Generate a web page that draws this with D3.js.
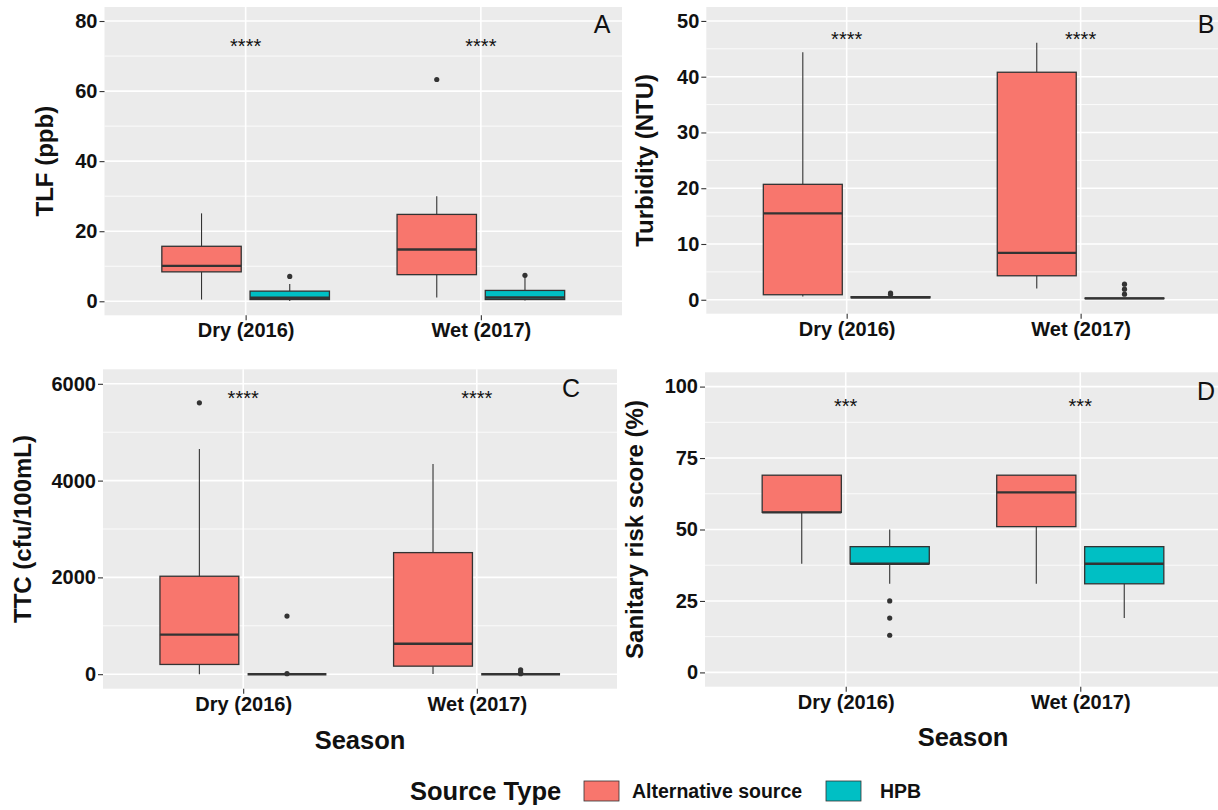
<!DOCTYPE html>
<html>
<head>
<meta charset="utf-8">
<script src="https://cdn.jsdelivr.net/npm/d3@7"></script>
<style>
  body { margin: 0; background: #fff; }
  text { font-family: "Liberation Sans", Arial, Helvetica, sans-serif; }
</style>
</head>
<body>
<div id="chart"></div>
<script>
// categories
const seasons = ["Dry (2016)", "Wet (2017)"];
const sourceTypes = ["Alternative source", "HPB"];
const sourceColors = ["#F8766D", "#00BFC4"];

// box summaries: lower whisker, q1, median, q3, upper whisker, outliers
const tlfBoxes = [
    { season: "Dry (2016)", source: "Alternative source", lo: 0.5, q1: 8.4, med: 10.1, q3: 15.7, hi: 25.1, out: [] },
    { season: "Dry (2016)", source: "HPB", lo: 0.1, q1: 0.5, med: 1.0, q3: 2.9, hi: 4.9, out: [7.1] },
    { season: "Wet (2017)", source: "Alternative source", lo: 1.1, q1: 7.6, med: 14.8, q3: 24.8, hi: 30.0, out: [63.3] },
    { season: "Wet (2017)", source: "HPB", lo: 0.2, q1: 0.5, med: 1.1, q3: 3.1, hi: 6.9, out: [7.4] }
];
const turbidityBoxes = [
    { season: "Dry (2016)", source: "Alternative source", lo: 0.6, q1: 0.9, med: 15.5, q3: 20.7, hi: 44.4, out: [] },
    { season: "Dry (2016)", source: "HPB", lo: 0.3, q1: 0.35, med: 0.45, q3: 0.55, hi: 0.7, out: [1.0, 1.2] },
    { season: "Wet (2017)", source: "Alternative source", lo: 2.0, q1: 4.3, med: 8.4, q3: 40.8, hi: 46.1, out: [] },
    { season: "Wet (2017)", source: "HPB", lo: 0.2, q1: 0.2, med: 0.25, q3: 0.3, hi: 0.35, out: [1.0, 1.9, 2.8] }
];
const ttcBoxes = [
    { season: "Dry (2016)", source: "Alternative source", lo: 0, q1: 201, med: 818, q3: 2024, hi: 4654, out: [5607] },
    { season: "Dry (2016)", source: "HPB", lo: 0, q1: 0, med: 0, q3: 0, hi: 0, out: [10, 1201] },
    { season: "Wet (2017)", source: "Alternative source", lo: 5, q1: 166, med: 628, q3: 2512, hi: 4343, out: [] },
    { season: "Wet (2017)", source: "HPB", lo: 0, q1: 0, med: 0, q3: 0, hi: 0, out: [10, 40, 90] }
];
const sanitaryBoxes = [
    { season: "Dry (2016)", source: "Alternative source", lo: 38, q1: 56, med: 56, q3: 69, hi: 69, out: [] },
    { season: "Dry (2016)", source: "HPB", lo: 31, q1: 38, med: 38, q3: 44, hi: 50, out: [25, 19, 13] },
    { season: "Wet (2017)", source: "Alternative source", lo: 31, q1: 51, med: 63, q3: 69, hi: 69, out: [] },
    { season: "Wet (2017)", source: "HPB", lo: 19, q1: 31, med: 38, q3: 44, hi: 44, out: [] }
];

// tick labels
const tlfTicks = [0, 20, 40, 60, 80];
const turbidityTicks = [0, 10, 20, 30, 40, 50];
const ttcTicks = [0, 2000, 4000, 6000];
const sanitaryTicks = [0, 25, 50, 75, 100];

// significance labels and their heights
const starLabels = ["****", "****", "****", "***"];
const starValues = [73.7, 47.3, 5779, 94.5];

const panels = [
    { letter: "A", title: "TLF (ppb)", boxes: tlfBoxes, ticks: tlfTicks, domain: [-4, 84] },
    { letter: "B", title: "Turbidity (NTU)", boxes: turbidityBoxes, ticks: turbidityTicks, domain: [-2.5, 52.5] },
    { letter: "C", title: "TTC (cfu/100mL)", boxes: ttcBoxes, ticks: ttcTicks, domain: [-300, 6300] },
    { letter: "D", title: "Sanitary risk score (%)", boxes: sanitaryBoxes, ticks: sanitaryTicks, domain: [-5, 105] }
];

// where each panel sits on the page
const layout = [
    { x0: 104.5, x1: 622, y0: 7, y1: 315.3, titleX: 45, letterX: 602, letterY: 33, season: false },
    { x0: 706.3, x1: 1221, y0: 7, y1: 313.7, titleX: 645, letterX: 1206, letterY: 33, season: false },
    { x0: 103, x1: 617, y0: 369.3, y1: 688.7, titleX: 23, letterX: 571, letterY: 397, season: true, seasonY: 749 },
    { x0: 705, x1: 1221, y0: 372.3, y1: 686.7, titleX: 635, letterX: 1206, letterY: 400, season: true, seasonY: 746 }
];

const W = 1218, H = 810;
const svg = d3.select("#chart").append("svg")
    .attr("width", W)
    .attr("height", H);

panels.forEach((p, i) => {
    const L = layout[i];
    const g = svg.append("g");

    const x = d3.scalePoint().domain(seasons).range([L.x0, L.x1]).padding(0.6);
    const y = d3.scaleLinear().domain(p.domain).range([L.y1, L.y0]);
    const step = x.step();
    const boxW = 0.3375 * step;
    const dodge = 0.1875 * step;

    // panel background
    g.append("rect")
        .attr("x", L.x0).attr("y", L.y0)
        .attr("width", L.x1 - L.x0).attr("height", L.y1 - L.y0)
        .attr("fill", "#EBEBEB");

    // minor grid (halfway between major ticks)
    const minor = d3.pairs(p.ticks).map(([a, b]) => (a + b) / 2);
    g.selectAll(".minor")
        .data(minor)
        .join("line")
        .attr("x1", L.x0).attr("x2", L.x1)
        .attr("y1", d => y(d)).attr("y2", d => y(d))
        .attr("stroke", "#fff").attr("stroke-width", 0.8);

    g.selectAll(".major")
        .data(p.ticks)
        .join("line")
        .attr("x1", L.x0).attr("x2", L.x1)
        .attr("y1", d => y(d)).attr("y2", d => y(d))
        .attr("stroke", "#fff").attr("stroke-width", 1.6);

    g.selectAll(".vgrid")
        .data(seasons)
        .join("line")
        .attr("x1", d => x(d)).attr("x2", d => x(d))
        .attr("y1", L.y0).attr("y2", L.y1)
        .attr("stroke", "#fff").attr("stroke-width", 1.6);

    // boxes
    p.boxes.forEach(b => {
        const si = sourceTypes.indexOf(b.source);
        const cx = x(b.season) + (si === 0 ? -dodge : dodge);
        const bg = g.append("g");

        bg.append("line")
            .attr("x1", cx).attr("x2", cx)
            .attr("y1", y(b.q3)).attr("y2", y(b.hi))
            .attr("stroke", "#333").attr("stroke-width", 1.1);
        bg.append("line")
            .attr("x1", cx).attr("x2", cx)
            .attr("y1", y(b.q1)).attr("y2", y(b.lo))
            .attr("stroke", "#333").attr("stroke-width", 1.1);

        bg.append("rect")
            .attr("x", cx - boxW / 2)
            .attr("y", y(b.q3))
            .attr("width", boxW)
            .attr("height", Math.max(0, y(b.q1) - y(b.q3)))
            .attr("fill", sourceColors[si])
            .attr("stroke", "#333").attr("stroke-width", 1.3);

        bg.append("line")
            .attr("x1", cx - boxW / 2).attr("x2", cx + boxW / 2)
            .attr("y1", y(b.med)).attr("y2", y(b.med))
            .attr("stroke", "#333").attr("stroke-width", 2.4);

        bg.selectAll("circle")
            .data(b.out)
            .join("circle")
            .attr("cx", cx)
            .attr("cy", d => y(d))
            .attr("r", 2.6)
            .attr("fill", "#333");
    });

    // significance stars
    g.selectAll(".stars")
        .data(seasons)
        .join("text")
        .attr("x", d => x(d))
        .attr("y", y(starValues[i]))
        .attr("dy", "0.52em")
        .attr("text-anchor", "middle")
        .style("font-size", "20px")
        .attr("fill", "#111")
        .text(starLabels[i]);

    // panel letter
    g.append("text")
        .attr("x", L.letterX)
        .attr("y", L.letterY)
        .attr("text-anchor", "middle")
        .style("font-size", "25px")
        .attr("fill", "#111")
        .text(p.letter);

    // axes
    const yAxis = g.append("g")
        .attr("transform", `translate(${L.x0},0)`)
        .call(d3.axisLeft(y).tickValues(p.ticks).tickFormat(d3.format("d")).tickSize(5).tickPadding(2));
    const xAxis = g.append("g")
        .attr("transform", `translate(0,${L.y1})`)
        .call(d3.axisBottom(x).tickSize(5).tickPadding(3));

    [yAxis, xAxis].forEach(a => {
        a.select(".domain").remove();
        a.selectAll(".tick line").attr("stroke", "#333").attr("stroke-width", 1.1);
        a.selectAll(".tick text")
            .attr("fill", "#111")
            .style("font-weight", "bold")
            .style("font-size", "20px")
            .style("font-family", "'Liberation Sans', Arial, sans-serif");
    });

    // axis titles
    g.append("text")
        .attr("transform", `translate(${L.titleX},${(L.y0 + L.y1) / 2}) rotate(-90)`)
        .attr("text-anchor", "middle")
        .attr("dy", "0.35em")
        .style("font-size", "24px")
        .style("font-weight", "bold")
        .attr("fill", "#111")
        .text(p.title);

    if (L.season) {
        g.append("text")
            .attr("x", (L.x0 + L.x1) / 2)
            .attr("y", L.seasonY)
            .attr("text-anchor", "middle")
            .style("font-size", "25.5px")
            .style("font-weight", "bold")
            .attr("fill", "#111")
            .text("Season");
    }
});

// legend
const legend = svg.append("g");
legend.append("text")
    .attr("x", 410)
    .attr("y", 800)
    .style("font-size", "25.5px")
    .style("font-weight", "bold")
    .attr("fill", "#111")
    .text("Source Type");

const keyX = [584, 826];
const labelX = [632, 880];
sourceTypes.forEach((s, i) => {
    legend.append("rect")
        .attr("x", keyX[i]).attr("y", 781)
        .attr("width", 35).attr("height", 20)
        .attr("fill", sourceColors[i])
        .attr("stroke", "#333").attr("stroke-width", 0.8);
    legend.append("text")
        .attr("x", labelX[i])
        .attr("y", 798)
        .style("font-size", "19.5px")
        .style("font-weight", "bold")
        .attr("fill", "#111")
        .text(s);
});
</script>
</body>
</html>
